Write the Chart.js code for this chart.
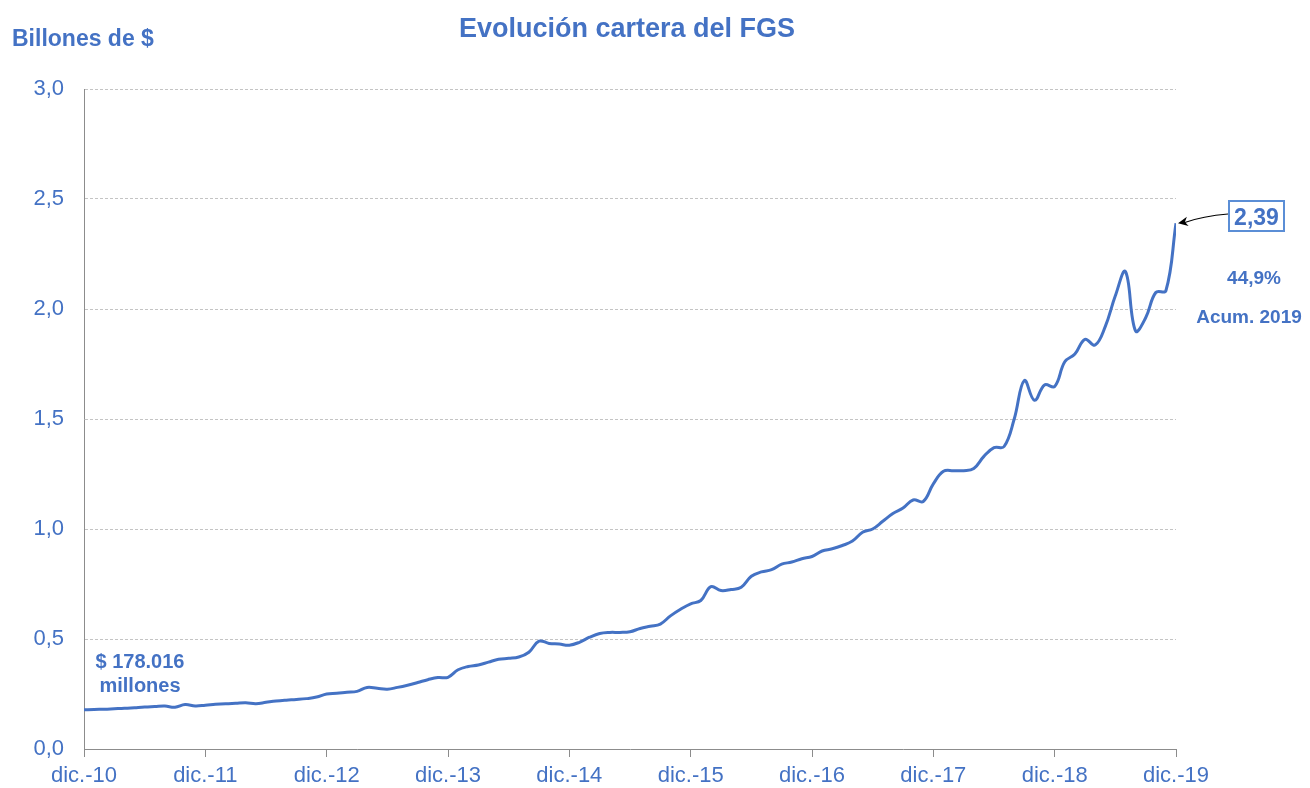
<!DOCTYPE html>
<html>
<head>
<meta charset="utf-8">
<script src="https://cdn.jsdelivr.net/npm/chart.js@4"></script>
<style>
html,body{margin:0;padding:0;background:#fff;}
#c{display:block;}
</style>
</head>
<body>
<canvas id="c" width="1310" height="788"></canvas>
<script>
// Year tick labels (one every 12 months, Dec 2010 .. Dec 2019)
const yearLabels = ['dic.-10','dic.-11','dic.-12','dic.-13','dic.-14','dic.-15','dic.-16','dic.-17','dic.-18','dic.-19'];

// Monthly values (billones de $), Dec-2010 .. Dec-2019
const v2010 = [0.178];
const v2011 = [0.180,0.181,0.183,0.185,0.188,0.191,0.193,0.195,0.190,0.202,0.196,0.199];
const v2012 = [0.203,0.206,0.208,0.210,0.206,0.212,0.218,0.222,0.225,0.229,0.236,0.250];
const v2013 = [0.253,0.258,0.262,0.280,0.276,0.272,0.280,0.290,0.302,0.315,0.325,0.326];
const v2014 = [0.360,0.375,0.382,0.395,0.408,0.412,0.418,0.440,0.490,0.480,0.477,0.472];
const v2015 = [0.485,0.508,0.525,0.530,0.530,0.533,0.548,0.558,0.568,0.605,0.635,0.660];
const v2016 = [0.675,0.738,0.720,0.725,0.735,0.785,0.805,0.815,0.840,0.850,0.865,0.875];
const v2017 = [0.900,0.910,0.925,0.945,0.985,1.000,1.035,1.070,1.095,1.132,1.125,1.205];
const v2018 = [1.262,1.265,1.265,1.275,1.330,1.370,1.375,1.500,1.675,1.585,1.655,1.648];
const v2019 = [1.760,1.795,1.862,1.836,1.920,2.060,2.170,1.900,1.960,2.075,2.083,2.390];

const values = [].concat(v2010,v2011,v2012,v2013,v2014,v2015,v2016,v2017,v2018,v2019);
const points = values.map((v,i)=>({x:i,y:v}));

// Annotation texts
const startNote = ['$ 178.016','millones'];
const endValueText = '2,39';
const accumText = ['44,9%','Acum. 2019'];
const titleText = 'Evolución cartera del FGS';
const unitText = 'Billones de $';

const BLUE = '#4472C4';
const FONT = "'Liberation Sans', Arial, sans-serif";

const annot = {
  id:'annot',
  afterDraw(chart){
    const ctx = chart.ctx;
    const xs = chart.scales.x, ys = chart.scales.y;
    ctx.save();
    ctx.fillStyle = BLUE;
    // Title
    ctx.font = `bold 27px ${FONT}`;
    ctx.textAlign = 'center';
    ctx.textBaseline = 'alphabetic';
    ctx.fillText(titleText, 627, 37);
    // unit
    ctx.font = `bold 23px ${FONT}`;
    ctx.textAlign = 'left';
    ctx.fillText(unitText, 12, 46);
    // start note
    ctx.font = `bold 20px ${FONT}`;
    ctx.textAlign = 'center';
    ctx.fillText(startNote[0], 140, 668);
    ctx.fillText(startNote[1], 140, 692);
    // end value box
    const lastI = values.length-1;
    const px = xs.getPixelForValue(lastI), py = ys.getPixelForValue(values[lastI]);
    ctx.strokeStyle = '#5B8ED6';
    ctx.lineWidth = 2;
    ctx.strokeRect(1229, 201, 55, 30);
    ctx.font = `bold 23px ${FONT}`;
    ctx.fillStyle = BLUE;
    ctx.fillText(endValueText, 1256.5, 224.5);
    // arrow
    const sx = 1228, sy = 214;
    const ex = px + 2, ey = py;
    ctx.strokeStyle = '#000';
    ctx.lineWidth = 1.2;
    ctx.beginPath();
    ctx.moveTo(sx, sy);
    ctx.quadraticCurveTo((sx+ex)/2, sy+2, ex+6, ey-0.5);
    ctx.stroke();
    const ang = Math.atan2(ey-sy, ex-sx);
    ctx.fillStyle = '#000';
    ctx.beginPath();
    ctx.moveTo(ex, ey);
    ctx.lineTo(ex + 11*Math.cos(ang+Math.PI-0.45), ey + 11*Math.sin(ang+Math.PI-0.45));
    ctx.lineTo(ex + 7*Math.cos(ang+Math.PI), ey + 7*Math.sin(ang+Math.PI));
    ctx.lineTo(ex + 11*Math.cos(ang+Math.PI+0.45), ey + 11*Math.sin(ang+Math.PI+0.45));
    ctx.closePath();
    ctx.fill();
    // accum
    ctx.fillStyle = BLUE;
    ctx.font = `bold 19px ${FONT}`;
    ctx.fillText(accumText[0], 1254, 284);
    ctx.fillText(accumText[1], 1249, 323);
    ctx.restore();
  }
};

new Chart(document.getElementById('c'), {
  type:'line',
  data:{
    datasets:[{
      data: points,
      borderColor: BLUE,
      borderWidth: 3,
      pointRadius: 0,
      tension: 0.4,
      fill:false
    }]
  },
  options:{
    responsive:false,
    animation:false,
    layout:{padding:{top:89, right:134, left:0, bottom:0}},
    plugins:{legend:{display:false}, tooltip:{enabled:false}, title:{display:false}},
    scales:{
      x:{
        type:'linear', min:0, max:values.length-1,
        afterFit(s){ s.height = 39; },
        border:{display:true, color:'#8C8C8C', width:1},
        grid:{drawOnChartArea:false, drawTicks:true, tickLength:8, color:'#8C8C8C'},
        ticks:{
          stepSize:12, autoSkip:false, maxRotation:0, minRotation:0,
          padding:6, color:BLUE, font:{family:FONT, size:22},
          callback:(v)=> (v%12===0 ? yearLabels[v/12] : '')
        }
      },
      y:{
        min:0, max:3,
        afterFit(s){ s.width = 84; },
        border:{display:true, color:'#8C8C8C', width:1, dash:[3,2]},
        grid:{
          drawTicks:false,
          color:(c)=> c.tick && c.tick.value===0 ? 'rgba(0,0,0,0)' : '#C4C4C4',
          lineWidth:1
        },
        ticks:{
          stepSize:0.5, padding:20, color:BLUE, font:{family:FONT, size:22},
          callback:(v)=> v.toFixed(1).replace('.',',')
        }
      }
    }
  },
  plugins:[annot]
});
</script>
</body>
</html>
